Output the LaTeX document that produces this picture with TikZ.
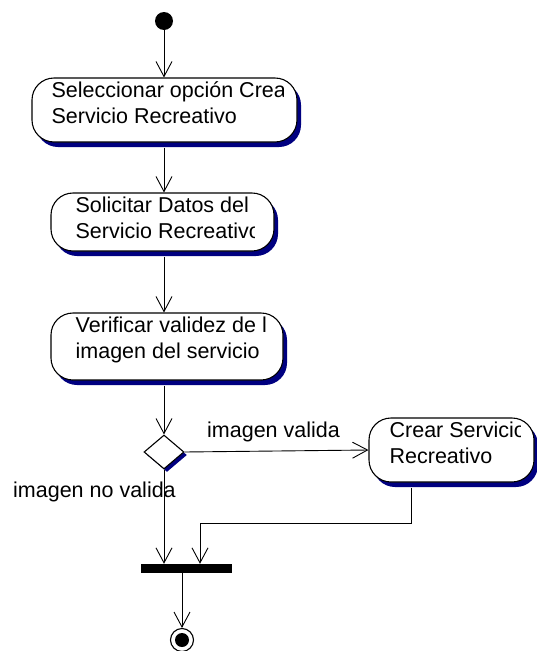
\documentclass[tikz,border=0pt]{standalone}
\usepackage{fontspec}
\setmainfont{Liberation Sans}
\usetikzlibrary{arrows.meta,calc,positioning,shapes.geometric,shadows}
\definecolor{shadowblue}{RGB}{0,0,128}
\tikzset{
    actbox/.style={draw=black,line width=1.1pt,fill=white,rounded corners=22pt,inner sep=0pt,
        drop shadow={shadow xshift=4pt,shadow yshift=-5pt,fill=shadowblue,opacity=1}},
    decbox/.style={diamond,draw=black,line width=1.1pt,fill=white,inner sep=0pt,
        minimum width=40pt,minimum height=34pt,
        drop shadow={shadow xshift=3pt,shadow yshift=-3pt,fill=shadowblue,opacity=1}},
    acttext/.style={anchor=north west,inner sep=0pt,align=left},
    flow/.style={line width=0.9pt,-{Straight Barb[length=15pt,width=16pt]}},
    every node/.style={font=\fontsize{21.5}{25.5}\selectfont}
}

\begin{document}
\begin{tikzpicture}[x=1pt,y=-1pt]
  \useasboundingbox (0,0) rectangle (536,651);
  \node[circle,fill=black,minimum size=18pt,inner sep=0pt] (start) at (164,21) {};
  \node[actbox,minimum width=265pt,minimum height=64pt] (sel) at (164.5,110) {};
  \node[actbox,minimum width=223pt,minimum height=58pt] (sol) at (162.5,222) {};
  \node[actbox,minimum width=232pt,minimum height=67pt] (ver) at (167,346.5) {};
  \node[decbox] (dec) at (164,452) {};
  \node[actbox,minimum width=165pt,minimum height=64pt] (crear) at (451.5,450) {};
  \node[fill=black,minimum width=91pt,minimum height=9pt,inner sep=0pt] (join) at (186.5,568.5) {};
  \node[circle,draw=black,line width=1.1pt,minimum size=23pt,inner sep=0pt,
    path picture={\fill (path picture bounding box.center) circle (7pt);}] (end) at (182,640) {};

  \begin{scope}
    \clip (sel.north west) rectangle ([xshift=-14pt]sel.south east);
    \node[acttext] (sel-t) at ([xshift=20pt,yshift=-4.5pt]sel.north west) {Seleccionar opción Crear\\Servicio Recreativo};
  \end{scope}
  \begin{scope}
    \clip (sol.north west) rectangle ([xshift=-20pt]sol.south east);
    \node[acttext] (sol-t) at ([xshift=25pt,yshift=-4.5pt]sol.north west) {Solicitar Datos del\\Servicio Recreativo};
  \end{scope}
  \begin{scope}
    \clip (ver.north west) rectangle ([xshift=-17pt]ver.south east);
    \node[acttext] (ver-t) at ([xshift=25pt,yshift=-4.5pt]ver.north west) {Verificar validez de la\\imagen del servicio};
  \end{scope}
  \begin{scope}
    \clip (crear.north west) rectangle ([xshift=-14pt]crear.south east);
    \node[acttext] (crear-t) at ([xshift=21pt,yshift=-4.5pt]crear.north west) {Crear Servicio\\Recreativo};
  \end{scope}

  \node[anchor=base west,inner sep=0pt] (lblok) at (207,437) {imagen valida};
  \node[anchor=base west,inner sep=0pt] (lblno) at (13,497) {imagen no valida};
  \coordinate (merge) at (200,523);

  \draw[flow] (start) -- (start |- sel.north);
  \draw[flow,shorten <=5pt] (start |- sel.south) -- (start |- sol.north);
  \draw[flow,shorten <=5pt] (start |- sol.south) -- (start |- ver.north);
  \draw[flow,shorten <=5pt] (start |- ver.south) -- (dec.north);
  \draw[flow] (dec.east) -- (crear.west);
  \draw[flow] (dec.south) -- (dec.south |- join.north);
  \draw[flow,shorten <=5pt] ([xshift=-40.5pt]crear.south) |- (merge) -- (merge |- join.north);
  \draw[flow] (join.south -| end) -- (end.north);
\end{tikzpicture}
\end{document}
